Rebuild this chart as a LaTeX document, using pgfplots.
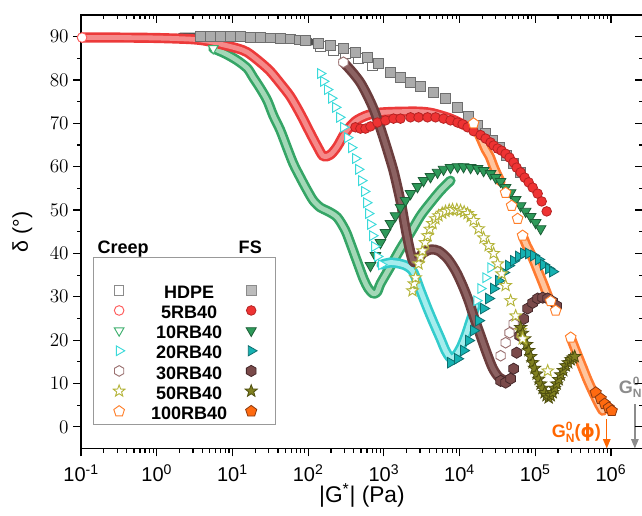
\documentclass[border=0pt]{standalone}
\usepackage{fontspec}
\setmainfont{Liberation Sans}
\newfontfamily\djv{DejaVu Sans}
\usepackage{pgfplots}
\usepackage{pgfplotstable}
\pgfplotsset{compat=1.18}
\usetikzlibrary{arrows.meta}

% creep (open) and FS (filled) colours
\definecolor{hdpeC}{HTML}{6E6E6E}\definecolor{hdpeB}{HTML}{505050}\definecolor{hdpeF}{HTML}{ABABAB}\definecolor{hdpeFE}{HTML}{6E6E6E}
\definecolor{redC}{HTML}{FF5A5A}\definecolor{redB}{HTML}{EC3A3A}\definecolor{redL}{HTML}{F58A8A}\definecolor{redF}{HTML}{EE3333}\definecolor{redFE}{HTML}{B52222}
\definecolor{grnC}{HTML}{3FB06F}\definecolor{grnB}{HTML}{35A566}\definecolor{grnL}{HTML}{A3D8B7}\definecolor{grnF}{HTML}{2E9A5A}\definecolor{grnFE}{HTML}{1D5E37}
\definecolor{cyaC}{HTML}{3ADADA}\definecolor{cyaB}{HTML}{33CCCC}\definecolor{cyaL}{HTML}{A5EDED}\definecolor{tealF}{HTML}{16B2B2}\definecolor{tealFE}{HTML}{0E6E6E}
\definecolor{brnC}{HTML}{9A7070}\definecolor{brnB}{HTML}{6B3D3D}\definecolor{brnL}{HTML}{8C6262}\definecolor{brnF}{HTML}{7A4A4A}\definecolor{brnFE}{HTML}{45282A}
\definecolor{oliC}{HTML}{B4B43A}\definecolor{oliF}{HTML}{808020}\definecolor{oliFE}{HTML}{4F4F10}
\definecolor{orgC}{HTML}{FF7F2A}\definecolor{orgB}{HTML}{FF7A30}\definecolor{orgL}{HTML}{FFC59E}\definecolor{orgF}{HTML}{FF6A10}\definecolor{orgFE}{HTML}{8A3A10}
\definecolor{annGray}{HTML}{8C8C8C}\definecolor{annOrg}{HTML}{FF6600}

\pgfdeclareplotmark{hex*}{%
  \pgfpathmoveto{\pgfpointpolar{90}{\pgfplotmarksize}}%
  \pgfpathlineto{\pgfpointpolar{150}{\pgfplotmarksize}}%
  \pgfpathlineto{\pgfpointpolar{210}{\pgfplotmarksize}}%
  \pgfpathlineto{\pgfpointpolar{270}{\pgfplotmarksize}}%
  \pgfpathlineto{\pgfpointpolar{330}{\pgfplotmarksize}}%
  \pgfpathlineto{\pgfpointpolar{30}{\pgfplotmarksize}}%
  \pgfpathclose\pgfusepathqfillstroke}
\pgfdeclareplotmark{star5*}{%
  \pgfpathmoveto{\pgfpointpolar{90}{\pgfplotmarksize}}%
  \pgfpathlineto{\pgfpointpolar{126}{0.42\pgfplotmarksize}}%
  \pgfpathlineto{\pgfpointpolar{162}{\pgfplotmarksize}}%
  \pgfpathlineto{\pgfpointpolar{198}{0.42\pgfplotmarksize}}%
  \pgfpathlineto{\pgfpointpolar{234}{\pgfplotmarksize}}%
  \pgfpathlineto{\pgfpointpolar{270}{0.42\pgfplotmarksize}}%
  \pgfpathlineto{\pgfpointpolar{306}{\pgfplotmarksize}}%
  \pgfpathlineto{\pgfpointpolar{342}{0.42\pgfplotmarksize}}%
  \pgfpathlineto{\pgfpointpolar{18}{\pgfplotmarksize}}%
  \pgfpathlineto{\pgfpointpolar{54}{0.42\pgfplotmarksize}}%
  \pgfpathclose\pgfusepathqfillstroke}

% dense creep bands: |G*| (Pa), delta (deg)
\pgfplotstableread{
x y
2.04 90.0
6.9 90.0
23.3 89.8
58.2 89.5
107 88.8
}\bandHDPE
\pgfplotstableread{
x y
0.103 89.8
0.3 89.8
1 89.7
3 89.4
5 88.9
6.9 88.3
11.6 87.3
15.7 86.4
23.3 84.1
31.6 82.0
42.9 79.2
58.2 76.2
78.9 72.2
107 67.7
132 64.7
159 62.4
197 62.8
243 64.7
310 67.9
421 70.5
607 71.9
902 72.5
1659 72.7
3050 72.7
4530 72.3
7600 71.1
11290 69.7
}\bandRed
\pgfplotstableread{
x y
5.57 87.3
8.04 86.1
11.6 84.5
15.7 82.7
18.8 80.6
23.3 78.1
28.8 75.3
34.6 71.8
42.9 68.4
53.1 64.2
63.7 60.7
78.9 57.5
97.6 54.5
117 52.2
145 50.6
185 49.7
243 48.3
310 45.3
362 42.3
448 37.9
537 34.2
625 31.9
728 30.7
822 31.2
902 33.0
1222 37.0
1659 41.1
2249 44.8
3050 48.7
4132 51.7
5611 54.5
7600 56.8
}\bandGreen
\pgfplotstableread{
x y
929 37.4
1222 37.9
1659 37.6
2052 37.0
2466 35.6
3050 31.4
3774 27.3
4530 24.0
5611 20.3
6525 17.6
7600 15.9
8854 16.4
10300 18.2
12000 21.0
13990 24.5
16290 27.9
}\bandCyan
\pgfplotstableread{
x y
292 84.1
384 81.8
490 79.4
607 76.4
728 73.4
849 70.2
989 66.7
1151 63.0
1340 59.1
1514 55.2
1710 51.0
1872 47.1
2052 43.4
2249 40.2
2466 38.0
2800 38.5
3243 40.0
4132 40.9
5272 40.6
6935 38.8
8854 36.0
10960 32.6
13150 29.1
15790 24.9
18970 21.0
22750 17.1
27320 13.6
32830 11.5
40570 10.6
}\bandBrown
\pgfplotstableread{
x y
15320 70.0
17310 68.1
19540 66.1
22080 64.0
24960 62.4
28190 60.0
31830 57.9
34860 56.6
}\bandOrgA
\pgfplotstableread{
x y
68090 44.1
76930 41.8
86950 40.0
98180 37.9
110900 35.6
125300 33.3
141600 30.9
154900 29.1
}\bandOrgB
\pgfplotstableread{
x y
294000 20.6
332000 18.2
375000 15.9
424000 13.6
478600 11.3
540500 9.2
611000 7.2
690600 5.3
779500 3.7
}\bandOrgC

\pgfplotsset{
  band/.style={forget plot, no marks, line width=7.6pt, line join=round, line cap=round, smooth, tension=0.5},
  bandin/.style={forget plot, no marks, line width=3.6pt, line join=round, line cap=round, smooth, tension=0.5},
  creep/.style={forget plot, only marks, mark size=3.6pt, mark options={fill=white, draw=#1, line width=0.7pt}},
  fs/.style 2 args={forget plot, only marks, mark size=3.6pt, mark options={fill=#1, draw=#2, line width=0.6pt}},
  markrot/.style={every mark/.append style={rotate=#1}},
  fsimg/.style={legend image code/.code={\path (-17.6pt,0pt) (7pt,0pt); \draw[##1] plot coordinates {(0pt,0pt)};}},
}
\newcommand{\rowstrut}{\rule[-3.9pt]{0pt}{17.5pt}}
% G with stacked superscript 0 and subscript N
\newcommand{\GN}{G\raisebox{-3.6pt}{\fontsize{9}{9}\selectfont\begin{tabular}[b]{@{}l@{}}0\\[0pt]N\end{tabular}}}

\begin{document}
\begin{tikzpicture}
\begin{axis}[name=main, clip=false,
    scale only axis, width=420.75pt, height=324.75pt,
    xmode=log, log basis x=10, xmin=0.1, xmax=2.63e6, ymin=-5, ymax=95,
    ytick={0,10,...,90}, minor y tick num=1,
    major tick length=5.8pt, minor tick length=3pt,
    tick style={black, line width=0.9pt},
    tick pos=left, tick align=outside,
    axis line style={line width=1.1pt},
    tick label style={font=\fontsize{15}{18}\selectfont},
    xticklabel style={yshift=-3pt},
    xticklabel={10\textsuperscript{\pgfmathprintnumber[fixed,precision=0,assume math mode=true]{\tick}}},
    xlabel={|G\textsuperscript{*}| (Pa)},
    ylabel={δ (°)},
    xlabel style={font=\fontsize{17}{20}\selectfont, at={([yshift=-35.25pt]axis description cs:0.5,0)}, anchor=center},
    ylabel style={font=\fontsize{16}{19}\selectfont, at={([xshift=-44pt]axis description cs:0,0.5)}, anchor=center},
    legend columns=2,
    legend image code/.code={\path (-9pt,0pt) (23.6pt,0pt); \draw[#1] plot coordinates {(0pt,0pt)};},
    legend style={at={(axis description cs:0.0214,0.0554)}, anchor=south west,
      draw=gray!80, line width=0.75pt, inner xsep=9.75pt, inner ysep=2pt,
      column sep=0pt, row sep=0pt,
      font=\bfseries\fontsize{13.5}{16}\selectfont,
      nodes={inner sep=0pt, anchor=center}},
  ]

% ---------- HDPE ----------
\addplot[band, draw=hdpeB, line width=6pt] table {\bandHDPE};
\addplot[creep=hdpeC, mark=square*] coordinates {
  (145,87.8)(215,86.8)(310,86.1)(461,85.0)(707,83.4)};
\addplot[fs={hdpeF}{hdpeFE}, mark=square*] coordinates {
  (3.75,90.1)(5.08,90.1)(6.9,90.1)(9.36,90.0)(12.7,90.0)(17.2,89.9)(23.3,89.8)
  (31.6,89.7)(42.9,89.6)(58.2,89.5)(75,89.3)(91.9,89.1)(136,88.5)(197,88.0)
  (292,87.3)(421,86.4)(607,85.2)(849,83.8)(1222,81.8)(1659,80.6)(2249,79.4)
  (3050,78.5)(4530,77.1)(6525,75.8)(9410,73.7)(13150,71.6)(17310,69.5)
  (22080,67.7)(27320,66.1)(33810,64.4)(41880,62.6)(51760,60.7)(64120,58.7)};

% ---------- 10RB40 ----------
\addplot[band, draw=grnB] table {\bandGreen};
\addplot[bandin, draw=grnL] table {\bandGreen};
\addplot[creep=grnC, mark=triangle*, mark size=4.2pt, markrot=180] coordinates {(5.57,87.3)};
\addplot[fs={grnF}{grnFE}, mark=triangle*, mark size=4.6pt, markrot=180] coordinates {
  (665,37.2)(774,39.5)(902,42.5)(1050,44.8)(1222,46.9)(1424,48.7)(1659,50.6)
  (1932,52.2)(2249,53.8)(2780,55.4)(3342,56.8)(4132,57.7)(5118,58.7)(6141,59.4)
  (7600,59.8)(9410,60.0)(11290,60.0)(13990,59.8)(17310,59.6)(20770,59.1)
  (25710,58.4)(29950,57.5)(34860,56.6)(40570,55.2)(47280,54.0)(55090,52.4)
  (64120,51.0)(74650,49.7)(86950,48.5)(101200,47.1)(117800,45.7)};

% ---------- 5RB40 ----------
\addplot[band, draw=redB] table {\bandRed};
\addplot[bandin, draw=redL] table {\bandRed};
\addplot[creep=redC, mark=*] coordinates {(0.103,89.8)(11290,69.7)};
\addplot[fs={redF}{redFE}, mark=*] coordinates {
  (421,69.1)(490,68.8)(571,68.8)(665,69.3)(822,70.2)(1050,70.7)(1340,71.1)
  (1659,71.1)(2249,71.4)(2871,71.4)(3774,71.4)(4816,71.4)(6141,71.1)(7600,70.7)
  (9410,70.2)(10960,69.8)(12760,69.1)(15320,68.2)(18970,67.3)(22080,66.5)
  (25710,65.6)(28190,64.9)(31830,64.2)(35970,63.7)(40570,63.0)(45800,62.1)
  (51760,61.0)(56750,59.8)(64120,58.7)(72440,57.5)(81840,56.4)(92470,55.2)
  (107600,53.8)(121600,52.0)(141600,49.7)};

% ---------- 20RB40 ----------
\addplot[band, draw=cyaB] table {\bandCyan};
\addplot[bandin, draw=cyaL] table {\bandCyan};
\addplot[creep=cyaC, mark=triangle*, mark size=4.2pt, markrot=-90] coordinates {
  (145,81.5)(159,79.7)(179,77.8)(203,75.8)(229,73.7)(259,71.4)(292,69.1)
  (330,66.7)(373,64.4)(421,61.9)(461,59.4)(506,56.8)(553,54.3)(589,51.7)
  (625,49.2)(665,46.7)(707,44.1)(751,41.6)(822,39.3)(929,37.4)
  (16790,29.1)(18970,31.9)(22080,34.4)(25710,36.7)};
\addplot[fs={tealF}{tealFE}, mark=triangle*, mark size=4.6pt, markrot=-90] coordinates {
  (7600,14.8)(9410,15.7)(11290,17.6)(13150,19.9)(15320,22.2)(17840,24.5)
  (20770,27.3)(24190,29.6)(28190,31.9)(32830,33.7)(38180,35.6)(44450,37.2)
  (51760,38.3)(60260,39.3)(70280,40.0)(81840,40.0)(95280,39.5)(110900,38.6)
  (129100,37.4)(150400,36.5)(169900,35.8)};

% ---------- 30RB40 ----------
\addplot[band, draw=brnB] table {\bandBrown};
\addplot[bandin, draw=brnL] table {\bandBrown};
\addplot[creep=brnC, mark=hex*, mark size=4pt] coordinates {
  (292,84.1)(34860,16.4)(40570,19.4)(45800,21.7)(51760,23.8)};
\addplot[fs={brnF}{brnFE}, mark=hex*, mark size=4.2pt] coordinates {
  (34860,10.6)(40570,10.2)(47280,11.1)(51760,13.4)(56750,17.1)(62190,21.0)
  (70280,24.9)(79320,27.3)(92470,28.6)(107600,29.6)(125300,29.8)(146000,29.6)
  (169900,28.9)(191800,27.9)};

% ---------- 50RB40 ----------
\addplot[creep=oliC, mark=star5*, mark size=4.6pt] coordinates {
  (2388,31.4)(2500,33.0)(2620,34.4)(2871,37.6)(3050,39.2)(3243,40.6)(3500,42.5)
  (3774,44.1)(4050,45.6)(4391,46.9)(4800,48.0)(5272,48.7)(5900,49.3)(6525,49.7)
  (7300,50.0)(8072,50.1)(9200,50.1)(10300,49.9)(11500,49.6)(12760,49.2)
  (14000,48.5)(15320,47.6)(17840,45.7)(20770,43.6)(24190,41.8)(28190,40.0)
  (31830,37.6)(35970,35.3)(40570,32.6)(47280,29.1)(55090,25.6)(64120,22.2)};
\addplot[fs={oliF}{oliFE}, mark=star5*, mark size=4.8pt] coordinates {
  (64120,22.9)(68000,21.6)(72440,20.3)(77000,19.0)(81840,17.6)(87000,16.2)
  (92470,14.8)(98000,13.5)(104400,12.2)(111000,11.0)(117800,9.9)(125000,8.9)
  (133100,7.9)(141000,7.2)(150400,6.7)(160000,7.2)(169900,7.9)(180000,8.9)
  (191800,9.9)(204000,10.9)(216800,12.0)(234000,13.0)(252500,14.1)(272000,14.8)
  (294000,15.5)(313000,15.9)(332000,16.2)};
\addplot[creep=oliC, mark=star5*, mark size=4.6pt] coordinates {(68090,20.3)(146000,12.9)};

% ---------- 100RB40 ----------
\addplot[band, draw=orgB] table {\bandOrgA};
\addplot[bandin, draw=orgL] table {\bandOrgA};
\addplot[band, draw=orgB] table {\bandOrgB};
\addplot[bandin, draw=orgL] table {\bandOrgB};
\addplot[band, draw=orgB] table {\bandOrgC};
\addplot[bandin, draw=orgL] table {\bandOrgC};
\addplot[creep=orgC, mark=pentagon*, mark size=4.2pt] coordinates {
  (15320,70.0)(40570,54.0)(48760,51.0)(58480,48.0)(68090,44.1)
  (159900,29.0)(186300,26.8)(294000,20.6)};
\addplot[fs={orgF}{orgFE}, mark=pentagon*, mark size=4.4pt] coordinates {
  (629200,7.9)(733000,6.5)(828000,5.3)(935200,4.4)(1025000,3.7)};

% ---------- annotations ----------
\draw[annGray, line width=1.1pt, -{Triangle[width=5.5pt,length=7pt]}] (axis cs:2.07e6,5.3) -- (axis cs:2.07e6,-5);
\draw[annOrg, line width=1.1pt, -{Triangle[width=5.5pt,length=7pt]}] (axis cs:8.8e5,1.8) -- (axis cs:8.8e5,-5);
\node[text=annGray, font=\bfseries\fontsize{13.5}{16}\selectfont, inner sep=0pt] at (axis cs:1.8e6,8.6) {\GN};
\node[text=annOrg, font=\bfseries\fontsize{13.5}{16}\selectfont, inner sep=0pt] at (axis cs:3.5e5,-1.6) {\GN({\djv ϕ})};

% ---------- legend ----------
\node[font=\bfseries\fontsize{13.5}{16}\selectfont, text height=9.7pt, text depth=0pt, inner sep=0pt] at (axis description cs:0.0749,0.464) {Creep};
\node[font=\bfseries\fontsize{13.5}{16}\selectfont, text height=9.7pt, text depth=0pt, inner sep=0pt] at (axis description cs:0.3012,0.464) {FS};
\addlegendimage{empty legend}\addlegendentry{\rowstrut}
\addlegendimage{empty legend}\addlegendentry{\rowstrut}
\addlegendimage{mark=square*, mark size=3.6pt, mark options={draw=hdpeC!80, fill=white, line width=0.7pt}}\addlegendentry{\makebox[57pt]{HDPE}\rowstrut}
\addlegendimage{fsimg, mark=square*, mark size=3.6pt, mark options={draw=hdpeFE!80, fill=hdpeF!80, line width=0.6pt}}\addlegendentry{\rowstrut}
\addlegendimage{mark=*, mark size=3.6pt, mark options={draw=redC, fill=white, line width=0.7pt}}\addlegendentry{\makebox[57pt]{5RB40}\rowstrut}
\addlegendimage{fsimg, mark=*, mark size=3.6pt, mark options={draw=redFE, fill=redF, line width=0.6pt}}\addlegendentry{\rowstrut}
\addlegendimage{mark=triangle*, mark size=4.2pt, mark options={rotate=180, draw=grnC, fill=white, line width=0.7pt}}\addlegendentry{\makebox[57pt]{10RB40}\rowstrut}
\addlegendimage{fsimg, mark=triangle*, mark size=4.4pt, mark options={rotate=180, draw=grnFE, fill=grnF, line width=0.6pt}}\addlegendentry{\rowstrut}
\addlegendimage{mark=triangle*, mark size=4.2pt, mark options={rotate=-90, draw=cyaC, fill=white, line width=0.7pt}}\addlegendentry{\makebox[57pt]{20RB40}\rowstrut}
\addlegendimage{fsimg, mark=triangle*, mark size=4.4pt, mark options={rotate=-90, draw=tealFE, fill=tealF, line width=0.6pt}}\addlegendentry{\rowstrut}
\addlegendimage{mark=hex*, mark size=4pt, mark options={draw=brnC, fill=white, line width=0.7pt}}\addlegendentry{\makebox[57pt]{30RB40}\rowstrut}
\addlegendimage{fsimg, mark=hex*, mark size=4.2pt, mark options={draw=brnFE, fill=brnF, line width=0.6pt}}\addlegendentry{\rowstrut}
\addlegendimage{mark=star5*, mark size=4.6pt, mark options={draw=oliC, fill=white, line width=0.7pt}}\addlegendentry{\makebox[57pt]{50RB40}\rowstrut}
\addlegendimage{fsimg, mark=star5*, mark size=4.8pt, mark options={draw=oliFE, fill=oliF, line width=0.6pt}}\addlegendentry{\rowstrut}
\addlegendimage{mark=pentagon*, mark size=4.2pt, mark options={draw=orgC, fill=white, line width=0.7pt}}\addlegendentry{\makebox[57pt]{100RB40}\rowstrut}
\addlegendimage{fsimg, mark=pentagon*, mark size=4.4pt, mark options={draw=orgFE, fill=orgF, line width=0.6pt}}\addlegendentry{\rowstrut}
\end{axis}

% inward ticks on the top and right sides
\begin{axis}[scale only axis, width=420.75pt, height=324.75pt,
    xmode=log, log basis x=10, xmin=0.1, xmax=2.63e6, ymin=-5, ymax=95,
    ytick={0,10,...,90}, minor y tick num=1,
    major tick length=5.8pt, minor tick length=3pt,
    tick style={black, line width=0.9pt},
    tick pos=right, tick align=inside,
    axis line style={draw=none}, xticklabels={}, yticklabels={}]
\end{axis}

\pgfresetboundingbox
\path[use as bounding box] ([xshift=-60.75pt,yshift=-50.25pt]main.south west) rectangle ([xshift=-0.55pt,yshift=11.25pt]main.north east);
\end{tikzpicture}
\end{document}
